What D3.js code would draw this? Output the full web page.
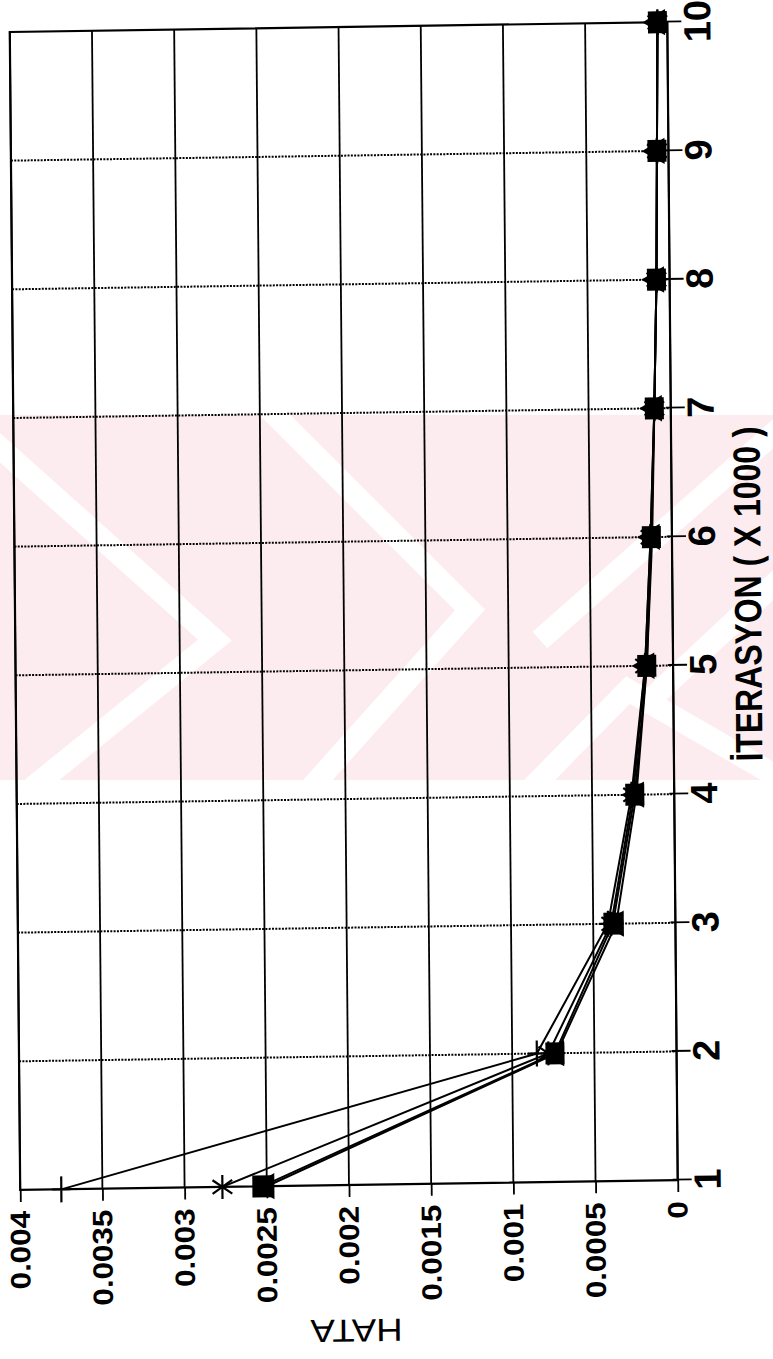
<!DOCTYPE html>
<html>
<head>
<meta charset="utf-8">
<script src="https://cdn.jsdelivr.net/npm/d3@7"></script>
<style>
body { margin: 0; background: #fff; }
svg text { font-family: "Liberation Sans", Arial, Helvetica, sans-serif; }
</style>
</head>
<body>
<div id="chart"></div>
<script>
// iterations (x 1000)
var iterations = [1, 2, 3, 4, 5, 6, 7, 8, 9, 10];
var iterLabels = ["1", "2", "3", "4", "5", "6", "7", "8", "9", "10"];

// HATA axis
var hataTicks = [0, 0.0005, 0.001, 0.0015, 0.002, 0.0025, 0.003, 0.0035, 0.004];
var hataLabels = ["0", "0.0005", "0.001", "0.0015", "0.002", "0.0025", "0.003", "0.0035", "0.004"];

// error curves, one per marker
var hataPlus     = [0.00375, 0.00085, 0.00041, 0.00026, 0.00017, 0.00013, 0.00010, 0.00008, 0.00007, 0.00006];
var hataStar     = [0.00277, 0.00078, 0.00039, 0.00025, 0.00017, 0.00013, 0.00010, 0.00008, 0.00007, 0.00006];
var hataTriangle = [0.00250, 0.00073, 0.00036, 0.00023, 0.00016, 0.00012, 0.00010, 0.00008, 0.00007, 0.00006];
var hataSquare   = [0.00253, 0.00074, 0.00038, 0.00024, 0.00016, 0.000125, 0.00010, 0.00008, 0.00007, 0.00006];

var W = 1158, H = 657.5;

var svg = d3.select("#chart")
    .append("svg")
    .attr("width", 773)
    .attr("height", 1359);

// faint background stamp
var wm = svg.append("g");
wm.append("rect")
    .attr("x", 0).attr("y", 415)
    .attr("width", 773).attr("height", 365)
    .style("fill", "#fdecef");
var wmStripes = [
    [[-20, 430], [215, 640], [-20, 830]],
    [[260, 400], [470, 610], [300, 800]],
    [[800, 410], [540, 640]],
    [[800, 560], [650, 700]],
    [[520, 800], [628, 690], [800, 790]]
];
wm.selectAll("path")
    .data(wmStripes)
    .enter()
    .append("path")
    .attr("d", d3.line())
    .style("fill", "none")
    .style("stroke", "#fff")
    .style("stroke-width", 22);

// the scanned page is a little skewed
var page = svg.append("g")
    .attr("transform", "matrix(1,-0.015,0.009,1,-5.45,5.2)");

// chart is drawn normally, then turned on its side
var g = page.append("g")
    .attr("transform", "translate(15,1185) rotate(-90)");

var x = d3.scaleLinear().domain([1, 10]).range([0, W]);
var y = d3.scaleLinear().domain([0, 0.004]).range([H, 0]);

// solid grid for HATA
g.selectAll(".hgrid")
    .data(hataTicks)
    .enter()
    .append("line")
    .attr("x1", 0).attr("x2", W)
    .attr("y1", function(d) { return y(d); })
    .attr("y2", function(d) { return y(d); })
    .style("stroke", "#000")
    .style("stroke-width", 1.8);

// dotted grid for iterations
g.selectAll(".vgrid")
    .data(iterations.slice(1, -1))
    .enter()
    .append("line")
    .attr("x1", function(d) { return x(d); })
    .attr("x2", function(d) { return x(d); })
    .attr("y1", 0).attr("y2", H)
    .style("stroke", "#000")
    .style("stroke-width", 2)
    .style("stroke-dasharray", "2,1.3");

g.append("rect")
    .attr("width", W).attr("height", H)
    .style("fill", "none")
    .style("stroke", "#000")
    .style("stroke-width", 2.2);

// HATA axis
var yAxis = g.append("g")
    .call(d3.axisLeft(y)
        .tickValues(hataTicks)
        .tickFormat(function(d, i) { return hataLabels[i]; })
        .tickSize(12)
        .tickPadding(9));
yAxis.select(".domain").remove();
yAxis.selectAll("line").style("stroke-width", 1.8);
yAxis.selectAll("text")
    .style("font-size", "28px")
    .style("font-weight", "bold")
    .style("fill", "#000")
    .each(function() {
        var len = this.getComputedTextLength();
        d3.select(this).attr("textLength", len * 1.12).attr("lengthAdjust", "spacingAndGlyphs");
    });

// iteration axis
var xAxis = g.append("g")
    .attr("transform", "translate(0," + H + ")")
    .call(d3.axisBottom(x)
        .tickValues(iterations)
        .tickFormat(function(d, i) { return iterLabels[i]; })
        .tickSize(14)
        .tickPadding(2));
xAxis.select(".domain").remove();
xAxis.selectAll("line").attr("y1", -5).style("stroke-width", 1.8);
xAxis.selectAll("text")
    .style("font-size", "38px")
    .style("font-weight", "bold")
    .style("fill", "#000");

// curves
var series = [
    {name: "plus", values: hataPlus},
    {name: "star", values: hataStar},
    {name: "triangle", values: hataTriangle},
    {name: "square", values: hataSquare}
];

var line = d3.line()
    .x(function(d, i) { return x(iterations[i]); })
    .y(function(d) { return y(d); });

g.selectAll(".curve")
    .data(series)
    .enter()
    .append("path")
    .attr("d", function(s) { return line(s.values); })
    .style("fill", "none")
    .style("stroke", "#000")
    .style("stroke-width", 2);

function pts(s) {
    return s.values.map(function(v, i) { return {x: x(iterations[i]), y: y(v)}; });
}

// plus markers
g.selectAll(".mplus")
    .data(pts(series[0]))
    .enter()
    .append("path")
    .attr("d", function(d) {
        return "M" + (d.x - 13) + "," + d.y + "H" + (d.x + 13) + "M" + d.x + "," + (d.y - 9) + "V" + (d.y + 9);
    })
    .style("stroke", "#000")
    .style("stroke-width", 2.2);

// asterisk markers
g.selectAll(".mstar")
    .data(pts(series[1]))
    .enter()
    .append("path")
    .attr("d", function(d) {
        var r = 12, a = r * 0.57, b = r * 0.82;
        return "M" + (d.x - r) + "," + d.y + "H" + (d.x + r) +
            "M" + (d.x - a) + "," + (d.y - b) + "L" + (d.x + a) + "," + (d.y + b) +
            "M" + (d.x - a) + "," + (d.y + b) + "L" + (d.x + a) + "," + (d.y - b);
    })
    .style("stroke", "#000")
    .style("stroke-width", 2.2);

g.selectAll(".mtri")
    .data(pts(series[2]))
    .enter()
    .append("path")
    .attr("transform", function(d) { return "translate(" + d.x + "," + d.y + ")"; })
    .attr("d", d3.symbol().type(d3.symbolTriangle).size(300))
    .style("fill", "#000");

g.selectAll(".msq")
    .data(pts(series[3]))
    .enter()
    .append("rect")
    .attr("x", function(d) { return d.x - 11; })
    .attr("y", function(d) { return d.y - 9.5; })
    .attr("width", 22)
    .attr("height", 19)
    .style("fill", "#000");

// axis titles
g.append("text")
    .attr("x", 585)
    .attr("y", 746)
    .attr("text-anchor", "middle")
    .attr("textLength", 335)
    .attr("lengthAdjust", "spacingAndGlyphs")
    .style("font-size", "38px")
    .style("font-weight", "bold")
    .text("İTERASYON ( X 1000 )");

g.append("text")
    .attr("transform", "translate(-134.5,335) rotate(-90)")
    .attr("text-anchor", "middle")
    .attr("textLength", 92)
    .attr("lengthAdjust", "spacingAndGlyphs")
    .style("font-size", "32px")
    .text("HATA");
</script>
</body>
</html>
